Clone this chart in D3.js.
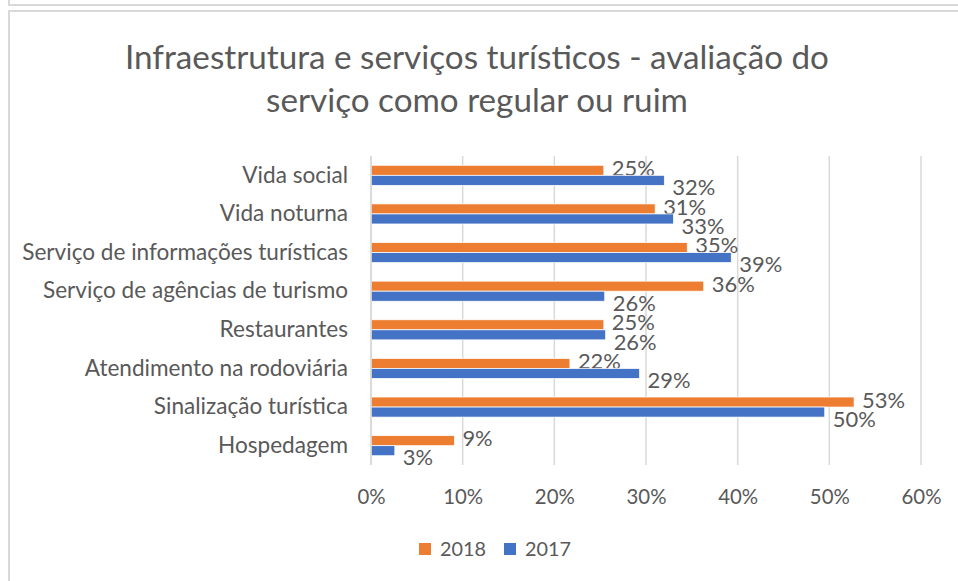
<!DOCTYPE html>
<html>
<head>
<meta charset="utf-8">
<script src="https://cdn.jsdelivr.net/npm/d3@7"></script>
<style>
  html, body { margin: 0; padding: 0; background: #fff; }
  svg { display: block; }
  text { font-family: Lato, "Open Sans", "Noto Sans", sans-serif; fill: #595959; }
</style>
</head>
<body>
<script>
const categories = [
  "Vida social",
  "Vida noturna",
  "Serviço de informações turísticas",
  "Serviço de agências de turismo",
  "Restaurantes",
  "Atendimento na rodoviária",
  "Sinalização turística",
  "Hospedagem"
];
const values2018 = [0.254, 0.310, 0.345, 0.363, 0.254, 0.217, 0.527, 0.091];
const values2017 = [0.320, 0.330, 0.393, 0.255, 0.256, 0.293, 0.495, 0.026];
const seriesNames = ["2018", "2017"];
const seriesColors = ["#ED7D31", "#4472C4"];
const xTicks = [0, 0.1, 0.2, 0.3, 0.4, 0.5, 0.6];
const titleLines = [
  "Infraestrutura e serviços turísticos - avaliação do",
  "serviço como regular ou ruim"
];

const W = 958, H = 581;
const svg = d3.select("body").append("svg").attr("width", W).attr("height", H);

// measure helper: font size that makes sample text reach a target width
function fitSize(sample, target, base) {
  const t = svg.append("text").style("font-size", base + "px").text(sample);
  const w = t.node().getComputedTextLength();
  t.remove();
  return base * target / w;
}
const titleSize = fitSize(titleLines[0], 704, 30);
const catSize = fitSize(categories[2], 326, 20);
const tickSize = fitSize("10%", 40, 20);
const labelSize = fitSize("25%", 43, 20);
const legendSize = fitSize("2018", 46, 20);

// outer frames
const frame = svg.append("g").attr("fill", "none").attr("stroke", "#d9d9d9").attr("stroke-width", 2);
frame.append("path").attr("d", `M9,0 V5 H${W}`);
frame.append("path").attr("d", `M9,${H} V11 H${W}`);

// title
titleLines.forEach((t, i) => {
  svg.append("text")
    .attr("x", 477).attr("y", 57 + i * 43)
    .attr("dy", "0.35em")
    .attr("text-anchor", "middle")
    .style("font-size", titleSize + "px")
    .text(t);
});

const m = { left: 371, right: 921, top: 156, bottom: 465 };
const x = d3.scaleLinear().domain([0, 0.6]).range([m.left, m.right]);
const y = d3.scaleBand().domain(categories).range([m.top, m.bottom]).paddingInner(0.48).paddingOuter(0.24);
const sub = d3.scaleBand().domain(seriesNames).range([0, y.bandwidth()]);

// gridlines
svg.append("g").selectAll("line").data(xTicks).join("line")
  .attr("x1", d => x(d)).attr("x2", d => x(d))
  .attr("y1", m.top).attr("y2", m.bottom)
  .attr("stroke", "#d9d9d9").attr("stroke-width", 1.5);

// x axis tick labels
const xAxis = d3.axisBottom(x).tickValues(xTicks).tickFormat(d3.format(".0%")).tickSize(0).tickPadding(0);
const gx = svg.append("g").attr("transform", `translate(0,${m.bottom + 32})`).call(xAxis);
gx.select(".domain").remove();
gx.attr("font-family", null);
gx.selectAll("text").style("font-size", tickSize + "px").attr("fill", "#595959").attr("dy", "0.35em");

// category labels
const yAxis = d3.axisLeft(y).tickSize(0).tickPadding(23);
const gy = svg.append("g").attr("transform", `translate(${m.left},0)`).call(yAxis);
gy.select(".domain").remove();
gy.attr("font-family", null);
gy.selectAll("text").style("font-size", catSize + "px").attr("fill", "#595959");

const series = [values2018, values2017];
series.forEach((vals, si) => {
  const g = svg.append("g");
  g.selectAll("rect").data(vals).join("rect")
    .attr("x", x(0))
    .attr("y", (d, i) => y(categories[i]) + sub(seriesNames[si]))
    .attr("width", d => x(d) - x(0))
    .attr("height", sub.bandwidth())
    .attr("fill", seriesColors[si])
    .attr("stroke", "#fff").attr("stroke-width", 0.75);
  g.selectAll("text").data(vals).join("text")
    .attr("x", d => x(d) + 8)
    .attr("y", (d, i) => y(categories[i]) + sub(seriesNames[si]) + sub.bandwidth() / 2 + (si === 0 ? -2 : 7))
    .attr("dy", "0.35em")
    .style("font-size", labelSize + "px")
    .attr("fill", "#404040")
    .text(d => d3.format(".0%")(d));
});

// axis line at 0
svg.append("line").attr("x1", x(0)).attr("x2", x(0)).attr("y1", m.top).attr("y2", m.bottom)
  .attr("stroke", "#d9d9d9").attr("stroke-width", 1.5);

// legend
const legend = svg.append("g").attr("transform", "translate(419,549)");
seriesNames.forEach((s, i) => {
  const lg = legend.append("g").attr("transform", `translate(${i * 85},0)`);
  lg.append("rect").attr("x", 0).attr("y", -6).attr("width", 12).attr("height", 12).attr("fill", seriesColors[i]);
  lg.append("text").attr("x", 21).attr("y", 0).attr("dy", "0.35em").style("font-size", legendSize + "px").text(s);
});
</script>
</body>
</html>
